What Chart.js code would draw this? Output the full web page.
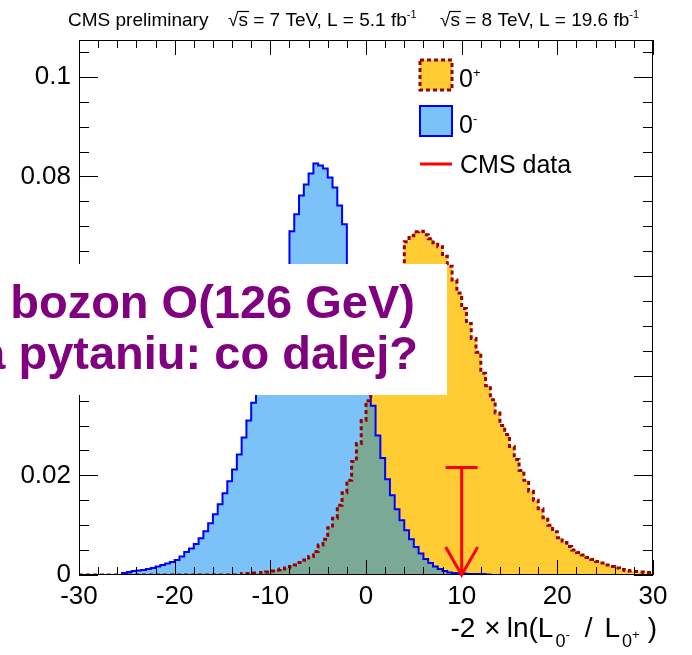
<!DOCTYPE html>
<html>
<head>
<meta charset="utf-8">
<script src="https://cdn.jsdelivr.net/npm/chart.js@4.4.0/dist/chart.umd.min.js"></script>
<style>
  html, body { margin: 0; padding: 0; background: #fff; }
  #wrap { width: 692px; height: 655px; }
</style>
</head>
<body>
<div id="wrap"><canvas id="chart" width="692" height="655"></canvas></div>
<script>
// Test statistic -2 ln(L0- / L0+), pseudo-experiments, bins of 0.5 from -30 to 30
const binLow = -30
const binWidth = 0.5

// 0+ hypothesis (SM-like scalar)
const hypo0plus = [
  0, 0, 0, 0, 0, 0, 0, 0, 0, 0,
  0, 0, 0, 0, 0, 0, 0, 0, 0, 0,
  0, 0, 0, 0, 0, 0, 0, 0, 0, 0,
  0, 0, 0, 0, 0.0003, 0.0003, 0.0004, 0.0004, 0.0005, 0.0006,
  0.0008, 0.0010, 0.0012, 0.0014, 0.0017, 0.0020, 0.0025, 0.0030, 0.0037, 0.0047,
  0.0060, 0.0072, 0.0095, 0.0114, 0.0140, 0.0165, 0.0190, 0.0228, 0.0264, 0.0310,
  0.0350, 0.0395, 0.0440, 0.0480, 0.0520, 0.0555, 0.0585, 0.0612, 0.0669, 0.0681,
  0.0689, 0.0690, 0.0683, 0.0675, 0.0667, 0.0659, 0.0640, 0.0620, 0.0592, 0.0566,
  0.0535, 0.0505, 0.0475, 0.0447, 0.0405, 0.0380, 0.0352, 0.0325, 0.0300, 0.0282,
  0.0258, 0.0232, 0.0210, 0.0190, 0.0168, 0.0150, 0.0133, 0.0115, 0.0100, 0.0087,
  0.0075, 0.0065, 0.0057, 0.0050, 0.0045, 0.0040, 0.0035, 0.0031, 0.0027, 0.0024,
  0.0020, 0.0017, 0.0014, 0.0011, 0.0009, 0.0008, 0.0007, 0.0006, 0.0005, 0.0005
]

// 0- hypothesis (pseudoscalar)
const hypo0minus = [
  0, 0, 0, 0, 0, 0, 0, 0, 0, 0.0004,
  0.0006, 0.0008, 0.0009, 0.0010, 0.0012, 0.0014, 0.0017, 0.0020, 0.0023, 0.0026,
  0.0030, 0.0037, 0.0046, 0.0053, 0.0062, 0.0074, 0.0088, 0.0104, 0.0122, 0.0142,
  0.0164, 0.0188, 0.0212, 0.0242, 0.0276, 0.0310, 0.0346, 0.0380, 0.0415, 0.0450,
  0.0490, 0.0530, 0.0570, 0.0612, 0.0690, 0.0724, 0.0762, 0.0784, 0.0806, 0.0826,
  0.0822, 0.0816, 0.0798, 0.0778, 0.0742, 0.0704, 0.0615, 0.0560, 0.0505, 0.0450,
  0.0395, 0.0340, 0.0280, 0.0235, 0.0192, 0.0160, 0.0132, 0.0110, 0.0090, 0.0072,
  0.0056, 0.0043, 0.0032, 0.0024, 0.0017, 0.0012, 0.0008, 0.0005, 0.0004, 0.0003,
  0.0003, 0.0002, 0.0002, 0.0002, 0.0002, 0.0001, 0, 0, 0, 0,
  0, 0, 0, 0, 0, 0, 0, 0, 0, 0,
  0, 0, 0, 0, 0, 0, 0, 0, 0, 0,
  0, 0, 0, 0, 0, 0, 0, 0, 0, 0
]

// observed value, shown as an arrow
const cmsDataValue = 10
const cmsDataArrowTop = 0.0216

const xTicks = [-30, -20, -10, 0, 10, 20, 30]
const yTicks = [0, 0.02, 0.04, 0.06, 0.08, 0.1]
const xRange = [-30, 30]
const yRange = [0, 0.1074]

const legendLabels = ['0', '0', 'CMS data']
const headerLeft = 'CMS preliminary'
const runLumis = [['7', '5.1'], ['8', '19.6']]
const bannerLines = ['bozon O(126 GeV)', 'a pytaniu: co dalej?']

const family = '"Liberation Sans", Arial, Helvetica, sans-serif'
const yellow = '#ffcc33'
const darkRed = '#990000'
const blue = '#0000ff'
// see-through so the yellow turns greenish where both overlap
const blueFill = 'rgba(0, 138, 240, 0.52)'

Chart.defaults.font.family = family
Chart.defaults.color = '#000'

const canvas = document.getElementById('chart')

// histogram as step line: one point per bin low edge plus the last upper edge
const toSteps = (values) => {
  const points = values.map((y, i) => ({ x: binLow + i * binWidth, y }))
  points.push({ x: binLow + values.length * binWidth, y: values[values.length - 1] })
  return points
}

// draws pieces of text one after another, each with its own size and shift
const drawRuns = (ctx, runs, x, y) => {
  runs.forEach(run => {
    ctx.font = `${run.size}px ${family}`
    x += run.gap || 0
    ctx.fillText(run.text, x, y + (run.dy || 0))
    x += ctx.measureText(run.text).width
  })
  return x
}

const measureRuns = (ctx, runs) => {
  let w = 0
  runs.forEach(run => {
    ctx.font = `${run.size}px ${family}`
    w += (run.gap || 0) + ctx.measureText(run.text).width
  })
  return w
}

// ROOT style frame with inward ticks on all four sides
const rootFrame = {
  id: 'rootFrame',
  afterDatasetsDraw(chart) {
    const { ctx, chartArea: a, scales: { x, y } } = chart
    ctx.save()
    ctx.strokeStyle = '#000'
    ctx.lineWidth = 1
    ctx.strokeRect(a.left + 0.5, a.top + 0.5, a.right - a.left - 1, a.bottom - a.top - 1)
    ctx.beginPath()
    for (let v = xRange[0]; v <= xRange[1]; v += 2) {
      const px = Math.round(x.getPixelForValue(v)) + 0.5
      const len = v % 10 === 0 ? 15 : 8
      ctx.moveTo(px, a.bottom)
      ctx.lineTo(px, a.bottom - len)
      ctx.moveTo(px, a.top)
      ctx.lineTo(px, a.top + len)
    }
    for (let k = 0; k * 0.005 <= yRange[1]; k++) {
      const py = Math.round(y.getPixelForValue(k * 0.005)) + 0.5
      const len = k % 4 === 0 ? 19 : 10
      ctx.moveTo(a.left, py)
      ctx.lineTo(a.left + len, py)
      ctx.moveTo(a.right, py)
      ctx.lineTo(a.right - len, py)
    }
    ctx.stroke()
    ctx.restore()
  }
}

const overlays = {
  id: 'overlays',
  afterDraw(chart) {
    const { ctx, scales: { x, y } } = chart
    ctx.save()

    // CMS data arrow
    const px = x.getPixelForValue(cmsDataValue)
    const top = y.getPixelForValue(cmsDataArrowTop)
    const tip = y.getPixelForValue(0)
    ctx.strokeStyle = '#ff0000'
    ctx.lineWidth = 3
    ctx.beginPath()
    ctx.moveTo(px - 16, top)
    ctx.lineTo(px + 16, top)
    ctx.moveTo(px, top)
    ctx.lineTo(px, tip)
    ctx.moveTo(px - 16, tip - 28)
    ctx.lineTo(px, tip)
    ctx.lineTo(px + 16, tip - 28)
    ctx.stroke()

    // legend
    const lx = 420
    ctx.fillStyle = yellow
    ctx.fillRect(lx, 60, 32, 30)
    ctx.strokeStyle = darkRed
    ctx.lineWidth = 3
    ctx.setLineDash([4, 3])
    ctx.strokeRect(lx, 60, 32, 30)
    ctx.setLineDash([])
    ctx.fillStyle = blueFill
    ctx.fillRect(lx, 106, 32, 30)
    ctx.strokeStyle = blue
    ctx.lineWidth = 2
    ctx.strokeRect(lx, 106, 32, 30)
    ctx.strokeStyle = '#ff0000'
    ctx.lineWidth = 3
    ctx.beginPath()
    ctx.moveTo(lx, 164)
    ctx.lineTo(lx + 32, 164)
    ctx.stroke()

    ctx.fillStyle = '#000'
    ctx.textAlign = 'left'
    ctx.textBaseline = 'alphabetic'
    drawRuns(ctx, [{ text: legendLabels[0], size: 25 }, { text: '+', size: 13, dy: -10 }], 459, 87)
    drawRuns(ctx, [{ text: legendLabels[1], size: 25 }, { text: '-', size: 13, dy: -10 }], 459, 133)
    drawRuns(ctx, [{ text: legendLabels[2], size: 25 }], 460, 173)

    // header line
    drawRuns(ctx, [{ text: headerLeft, size: 19 }], 68, 26)
    const lumiX = [228, 440]
    runLumis.forEach(([energy, lumi], i) => {
      ctx.font = `19px ${family}`
      const root = '\u221a'
      const rootW = ctx.measureText(root).width
      const sW = ctx.measureText('s').width
      drawRuns(ctx, [
        { text: root, size: 19 },
        { text: 's', size: 19 },
        { text: ` = ${energy} TeV, L = ${lumi} fb`, size: 19 },
        { text: '-1', size: 11, dy: -8 }
      ], lumiX[i], 26)
      ctx.strokeStyle = '#000'
      ctx.lineWidth = 1.2
      ctx.beginPath()
      ctx.moveTo(lumiX[i] + rootW - 1, 11.5)
      ctx.lineTo(lumiX[i] + rootW + sW + 1, 11.5)
      ctx.stroke()
    })

    // x axis title, right aligned with the frame
    const titleRuns = [
      { text: '-2', size: 28 },
      { text: '\u00d7', size: 28, gap: 9 },
      { text: 'ln(L', size: 28, gap: 6 },
      { text: '0', size: 18, dy: 10, gap: 2 },
      { text: '-', size: 13, dy: 2 },
      { text: '/', size: 28, gap: 15 },
      { text: 'L', size: 28, gap: 12 },
      { text: '0', size: 18, dy: 10, gap: 2 },
      { text: '+', size: 13, dy: 2 },
      { text: ')', size: 28, gap: 8 }
    ]
    const tw = measureRuns(ctx, titleRuns)
    drawRuns(ctx, titleRuns, 657 - tw, 637)

    // white banner on top of the plot
    ctx.fillStyle = '#fff'
    ctx.fillRect(0, 264, 447, 131)
    ctx.fillStyle = '#800080'
    ctx.font = `bold 47px ${family}`
    ctx.textAlign = 'right'
    ctx.fillText(bannerLines[0], 415, 318)
    ctx.fillText(bannerLines[1], 418, 369)

    ctx.restore()
  }
}

new Chart(canvas, {
  type: 'line',
  data: {
    datasets: [
      {
        label: '0+ outline',
        data: toSteps(hypo0plus),
        stepped: 'before',
        borderColor: darkRed,
        borderWidth: 3,
        borderDash: [4, 3],
        fill: false,
        pointRadius: 0
      },
      {
        label: '0-',
        data: toSteps(hypo0minus),
        stepped: 'before',
        borderColor: blue,
        borderWidth: 2,
        backgroundColor: blueFill,
        fill: 'origin',
        pointRadius: 0
      },
      {
        label: '0+',
        data: toSteps(hypo0plus),
        stepped: 'before',
        borderColor: 'rgba(0,0,0,0)',
        borderWidth: 0,
        backgroundColor: yellow,
        fill: 'origin',
        pointRadius: 0
      }
    ]
  },
  options: {
    responsive: false,
    animation: false,
    events: [],
    layout: { padding: { left: 0, top: 40, right: 39, bottom: 0 } },
    plugins: {
      legend: { display: false },
      tooltip: { enabled: false }
    },
    scales: {
      x: {
        type: 'linear',
        min: xRange[0],
        max: xRange[1],
        afterBuildTicks: scale => { scale.ticks = xTicks.map(value => ({ value })) },
        afterFit: scale => { scale.height = 80 },
        grid: { display: false, drawTicks: false },
        border: { display: false },
        ticks: {
          autoSkip: false,
          maxRotation: 0,
          padding: 6,
          color: '#000',
          font: { size: 26 }
        }
      },
      y: {
        min: yRange[0],
        max: yRange[1],
        afterBuildTicks: scale => { scale.ticks = yTicks.map(value => ({ value })) },
        afterFit: scale => { scale.width = 79 },
        grid: { display: false, drawTicks: false },
        border: { display: false },
        ticks: {
          padding: 8,
          color: '#000',
          font: { size: 26 },
          callback: v => String(Number(v.toFixed(2)))
        }
      }
    }
  },
  plugins: [rootFrame, overlays]
})
</script>
</body>
</html>
